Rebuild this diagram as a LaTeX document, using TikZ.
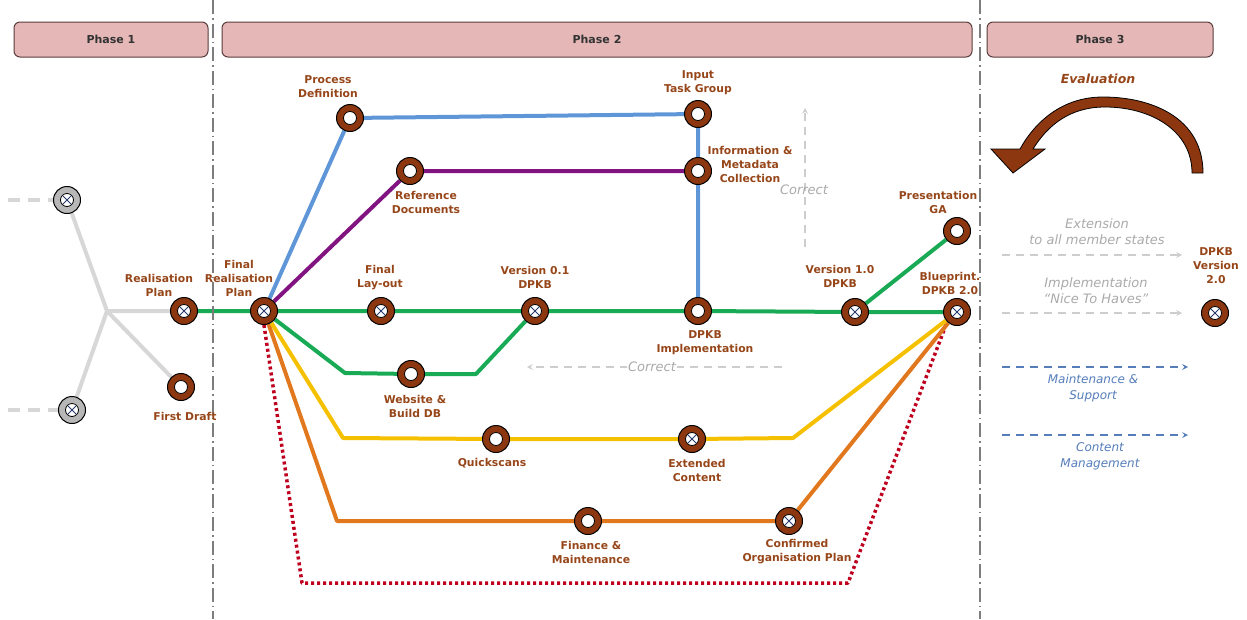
\documentclass[tikz,border=0pt]{standalone}
\usepackage{fontspec}
\setmainfont{DejaVu Sans}
\usepackage{tikz}
\usetikzlibrary{arrows,backgrounds,positioning}

\definecolor{stopbrown}{RGB}{140,55,15}
\definecolor{lblbrown}{RGB}{150,70,25}
\definecolor{lgreen}{RGB}{24,170,85}
\definecolor{lblue}{RGB}{95,150,215}
\definecolor{lpurple}{RGB}{130,20,130}
\definecolor{lyellow}{RGB}{245,192,0}
\definecolor{lorange}{RGB}{225,120,30}
\definecolor{lred}{RGB}{190,0,30}
\definecolor{lgray}{RGB}{215,215,215}
\definecolor{phasefill}{RGB}{229,183,183}
\definecolor{phaseline}{RGB}{90,60,60}
\definecolor{divgray}{RGB}{125,125,125}
\definecolor{arrgray}{RGB}{205,205,205}
\definecolor{txtgray}{RGB}{170,170,170}
\definecolor{arrblue}{RGB}{85,125,185}
\definecolor{crossblue}{RGB}{40,60,110}

\tikzset{
  stop/.style={circle, draw=black, line width=1pt, fill=stopbrown,
    minimum size=27pt, inner sep=0pt,
    path picture={\draw[black, line width=0.8pt, fill=white]
      (path picture bounding box.center) circle (6.5pt);}},
  xstop/.style={stop,
    path picture={\draw[black, line width=0.8pt, fill=white]
      (path picture bounding box.center) circle (6.5pt);
      \draw[crossblue, line width=0.8pt]
      (path picture bounding box.center) ++(-4pt,-4pt) -- ++(8pt,8pt)
      (path picture bounding box.center) ++(-4pt,4pt) -- ++(8pt,-8pt);}},
  gstop/.style={xstop, fill=lgray!85!black},
  lbl/.style={text=lblbrown, font=\bfseries\fontsize{10.8}{14}\selectfont,
    align=center, inner sep=0pt},
  phase/.style={draw=phaseline, line width=1pt, fill=phasefill, rounded corners=6pt,
    minimum height=35pt, font=\bfseries\fontsize{11}{13}\selectfont, text=black!80},
  metro/.style={line width=4pt, line join=round},
  divider/.style={divgray, line width=1.2pt, dash pattern=on 14pt off 4pt on 1.5pt off 4pt},
  corr/.style={arrgray, line width=1.5pt, dash pattern=on 8pt off 6pt, -stealth},
  maint/.style={arrblue, line width=1.5pt, dash pattern=on 8pt off 6pt, -stealth},
  gtext/.style={text=txtgray, font=\itshape\fontsize{13}{16}\selectfont, align=center, inner sep=1pt},
  btext/.style={text=arrblue, font=\itshape\fontsize{12}{16}\selectfont, align=center, inner sep=0pt}
}

\begin{document}
\begin{tikzpicture}[x=1pt, y=-1pt]
  \useasboundingbox (0,0) rectangle (1247,619);

  % phases
  \node[phase, minimum width=194pt] (ph1) at (111,39.5) {Phase 1};
  \node[phase, minimum width=750pt] (ph2) at (597,39.5) {Phase 2};
  \node[phase, minimum width=226pt] (ph3) at (1100,39.5) {Phase 3};
  \draw[divider] (213,0) -- (213,619);
  \draw[divider] (980,0) -- (980,619);

  % stops
  \node[gstop] (gt) at (67,200) {};
  \node[gstop] (gb) at (72,410) {};
  \node[xstop] (rp) at (184,311) {};
  \node[stop] (fd) at (181,387) {};
  \node[xstop] (frp) at (264,311) {};
  \node[stop] (pd) at (350,118) {};
  \node[stop] (rd) at (410,171) {};
  \node[stop] (itg) at (698,114) {};
  \node[stop] (imc) at (698,171) {};
  \node[xstop] (fl) at (381,311) {};
  \node[xstop] (v01) at (535,311) {};
  \node[stop] (di) at (698,311) {};
  \node[xstop] (v10) at (855,312) {};
  \node[xstop] (bp) at (957,312) {};
  \node[stop] (pga) at (957,231) {};
  \node[stop] (wb) at (411,374) {};
  \node[stop] (qs) at (496,439) {};
  \node[xstop] (ec) at (692,439) {};
  \node[stop] (fm) at (588,521) {};
  \node[xstop] (cop) at (789,521) {};
  \node[xstop] (dv2) at (1215,313) {};

  % labels
  \node[lbl] (rp-l) at (159,285) {Realisation\\Plan};
  \node[lbl] (fd-l) at (185,416) {First Draft};
  \node[lbl] (frp-l) at (239,278) {Final\\Realisation\\Plan};
  \node[lbl] (pd-l) at (328,87) {Process\\Definition};
  \node[lbl] (rd-l) at (426,202) {Reference\\Documents};
  \node[lbl] (itg-l) at (698,83) {Input\\Task Group};
  \node[lbl] (imc-l) at (750,164) {Information \&\\Metadata\\Collection};
  \node[lbl] (fl-l) at (380,278) {Final\\Lay-out};
  \node[lbl] (v01-l) at (535,277) {Version 0.1\\DPKB};
  \node[lbl] (di-l) at (705,343) {DPKB\\Implementation};
  \node[lbl] (v10-l) at (840,276) {Version 1.0\\DPKB};
  \node[lbl] (bp-l) at (950,283) {Blueprint.\\DPKB 2.0};
  \node[lbl] (pga-l) at (938,202) {Presentation\\GA};
  \node[lbl] (wb-l) at (415,406) {Website \&\\Build DB};
  \node[lbl] (qs-l) at (492,463) {Quickscans};
  \node[lbl] (ec-l) at (697,470) {Extended\\Content};
  \node[lbl] (fm-l) at (591,552) {Finance \&\\Maintenance};
  \node[lbl] (cop-l) at (797,552) {Confirmed\\Organisation Plan};
  \node[lbl] (dv2-l) at (1216,266) {DPKB\\Version\\2.0};

  % bends
  \coordinate (hub) at (107,311);
  \coordinate (gt-in) at (8,200);
  \coordinate (gb-in) at (8,410);
  \coordinate (g1) at (345,373);
  \coordinate (g2) at (476,374);
  \coordinate (y1) at (343,438);
  \coordinate (y2) at (793,438);
  \coordinate (o1) at (337,521);
  \coordinate (r1) at (302,583);
  \coordinate (r2) at (848,583);

  \begin{scope}[on background layer]
    \draw[lgray, line width=4pt, dash pattern=on 12pt off 8pt] (gt-in) -- (gt);
    \draw[lgray, line width=4pt, dash pattern=on 12pt off 8pt] (gb-in) -- (gb);
    \draw[metro, lgray] (gt) -- (hub) -- (rp);
    \draw[metro, lgray] (gb) -- (hub) -- (fd);
    \draw[metro, lred, line width=3.5pt, dash pattern=on 3pt off 3pt]
      (frp.south) -- (r1) -- (r2) -- (bp.south west);
    \draw[metro, lorange] (frp) -- (o1) -- (fm) -- (cop) -- (bp);
    \draw[metro, lyellow] (frp) -- (y1) -- (qs) -- (ec) -- (y2) -- (bp);
    \draw[metro, lgreen] (frp) -- (g1) -- (wb) -- (g2) -- (v01);
    \draw[metro, lgreen] (v10) -- (pga);
    \draw[metro, lgreen] (rp) -- (frp) -- (fl) -- (v01) -- (di) -- (v10) -- (bp);
    \draw[metro, lpurple] (frp) -- (rd) -- (imc);
    \draw[metro, lblue] (frp) -- (pd) -- (itg) -- (imc) -- (di);
  \end{scope}

  % corrections
  \coordinate (cv1) at (805,247);
  \coordinate (cv2) at (805,108);
  \draw[corr] (cv1) -- (cv2);
  \node[gtext] (cv-l) at (804,190) {Correct};
  \coordinate (ch1) at (782,367);
  \coordinate (ch2) at (527,367);
  \draw[corr] (ch1) -- (ch2);
  \node[gtext, fill=white] (ch-l) at (652,367) {Correct};

  % phase 3
  \coordinate (e1) at (1002,255);
  \coordinate (e2) at (1182,255);
  \draw[corr] (e1) -- (e2);
  \node[gtext] (e-l) at (1097,232) {Extension\\to all member states};
  \coordinate (n1) at (1002,313);
  \coordinate (n2) at (1182,313);
  \draw[corr] (n1) -- (n2);
  \node[gtext] (n-l) at (1096,291) {Implementation\\``Nice To Haves''};
  \coordinate (m1) at (1002,367);
  \coordinate (m2) at (1188,367);
  \draw[maint] (m1) -- (m2);
  \node[btext] (m-l) at (1093,388) {Maintenance \&\\Support};
  \coordinate (c1) at (1002,435);
  \coordinate (c2) at (1188,435);
  \draw[maint] (c1) -- (c2);
  \node[btext] (c-l) at (1100,456) {Content\\Management};

  % evaluation
  \node[text=lblbrown, font=\bfseries\itshape\fontsize{12.5}{14}\selectfont] (ev-l) at (1098,79) {Evaluation};
  \draw[black, line width=0.8pt, fill=stopbrown]
    (1203,173) .. controls (1203,118) and (1152,97) .. (1103,97)
    .. controls (1062,97) and (1035,122) .. (1020,149)
    -- (991,149) -- (1013,173) -- (1045,149) -- (1033,149)
    .. controls (1048,125) and (1070,107) .. (1105,107)
    .. controls (1150,107) and (1192,130) .. (1192,173) -- cycle;
\end{tikzpicture}
\end{document}
